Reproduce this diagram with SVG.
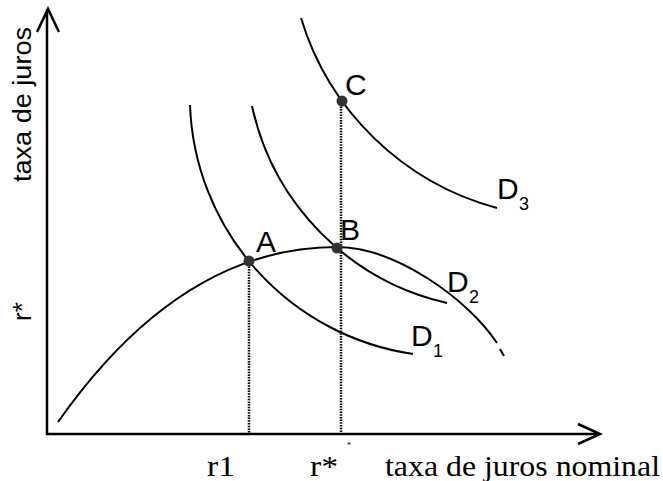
<svg xmlns="http://www.w3.org/2000/svg" width="663" height="481" viewBox="0 0 663 481">
  <style>
    .axis { stroke: #000; stroke-width: 2.5; fill: none; }
    .curve { stroke: #000; stroke-width: 2; fill: none; }
    .dots { stroke: #000; stroke-width: 2.5; stroke-dasharray: 1.5 1.2; fill: none; }
    .pt { fill: #333; }
    .sans { font-family: "Liberation Sans", Arial, sans-serif; fill: #000; }
    .serif { font-family: "Liberation Serif", "Times New Roman", serif; fill: #000; }
    .lbl { font-size: 30px; }
    .sub { font-size: 18px; }
  </style>
  <rect width="663" height="481" fill="#fff"/>

  <g id="axes">
    <path class="axis" d="M47,435 V9 M37,32 L48,9 L59,32"/>
    <path class="axis" d="M46,434 H600 M578,424 L600,434 L578,444"/>
    <text class="sans" font-size="26" transform="translate(31,182) rotate(-90)" textLength="155" lengthAdjust="spacingAndGlyphs">taxa de juros</text>
    <text class="sans" font-size="26" transform="translate(31,321) rotate(-90)">r*</text>
    <text class="serif" font-size="30" x="207" y="476" textLength="28" lengthAdjust="spacingAndGlyphs">r1</text>
    <text class="serif" font-size="30" x="310" y="476" textLength="28" lengthAdjust="spacingAndGlyphs">r*</text>
    <text class="serif" font-size="8" x="347" y="448">*</text>
    <text class="serif" font-size="30" x="385" y="476" textLength="275" lengthAdjust="spacingAndGlyphs">taxa de juros nominal</text>
  </g>

  <g id="connectors">
    <path class="dots" d="M249,261 V434"/>
    <path class="dots" d="M341,101 V434"/>
  </g>

  <g id="curve-hill">
    <path class="curve" d="M58,422 C110,348 200,247 337,247 C395,247 468,299 497,343"/>
    <path class="curve" d="M500,349 L504,356"/>
  </g>

  <g id="curve-D1">
    <path class="curve" d="M190,105 A261,261 0 0,0 413,354"/>
    <text class="sans lbl" x="411" y="346">D</text>
    <text class="sans sub" x="433" y="357">1</text>
  </g>

  <g id="curve-D2">
    <path class="curve" d="M252,106 A258,258 0 0,0 447,303"/>
    <text class="sans lbl" x="447" y="292">D</text>
    <text class="sans sub" x="469" y="303">2</text>
  </g>

  <g id="curve-D3">
    <path class="curve" d="M301,18 A281,281 0 0,0 497,208"/>
    <text class="sans lbl" x="497" y="199">D</text>
    <text class="sans sub" x="519" y="210">3</text>
  </g>

  <g id="point-A">
    <circle class="pt" cx="249" cy="261" r="5.5"/>
    <text class="sans lbl" x="256" y="252">A</text>
  </g>
  <g id="point-B">
    <circle class="pt" cx="337" cy="248" r="5.5"/>
    <text class="sans lbl" x="340" y="240">B</text>
  </g>
  <g id="point-C">
    <circle class="pt" cx="342" cy="101" r="5.5"/>
    <text class="sans lbl" x="345" y="95">C</text>
  </g>
</svg>
